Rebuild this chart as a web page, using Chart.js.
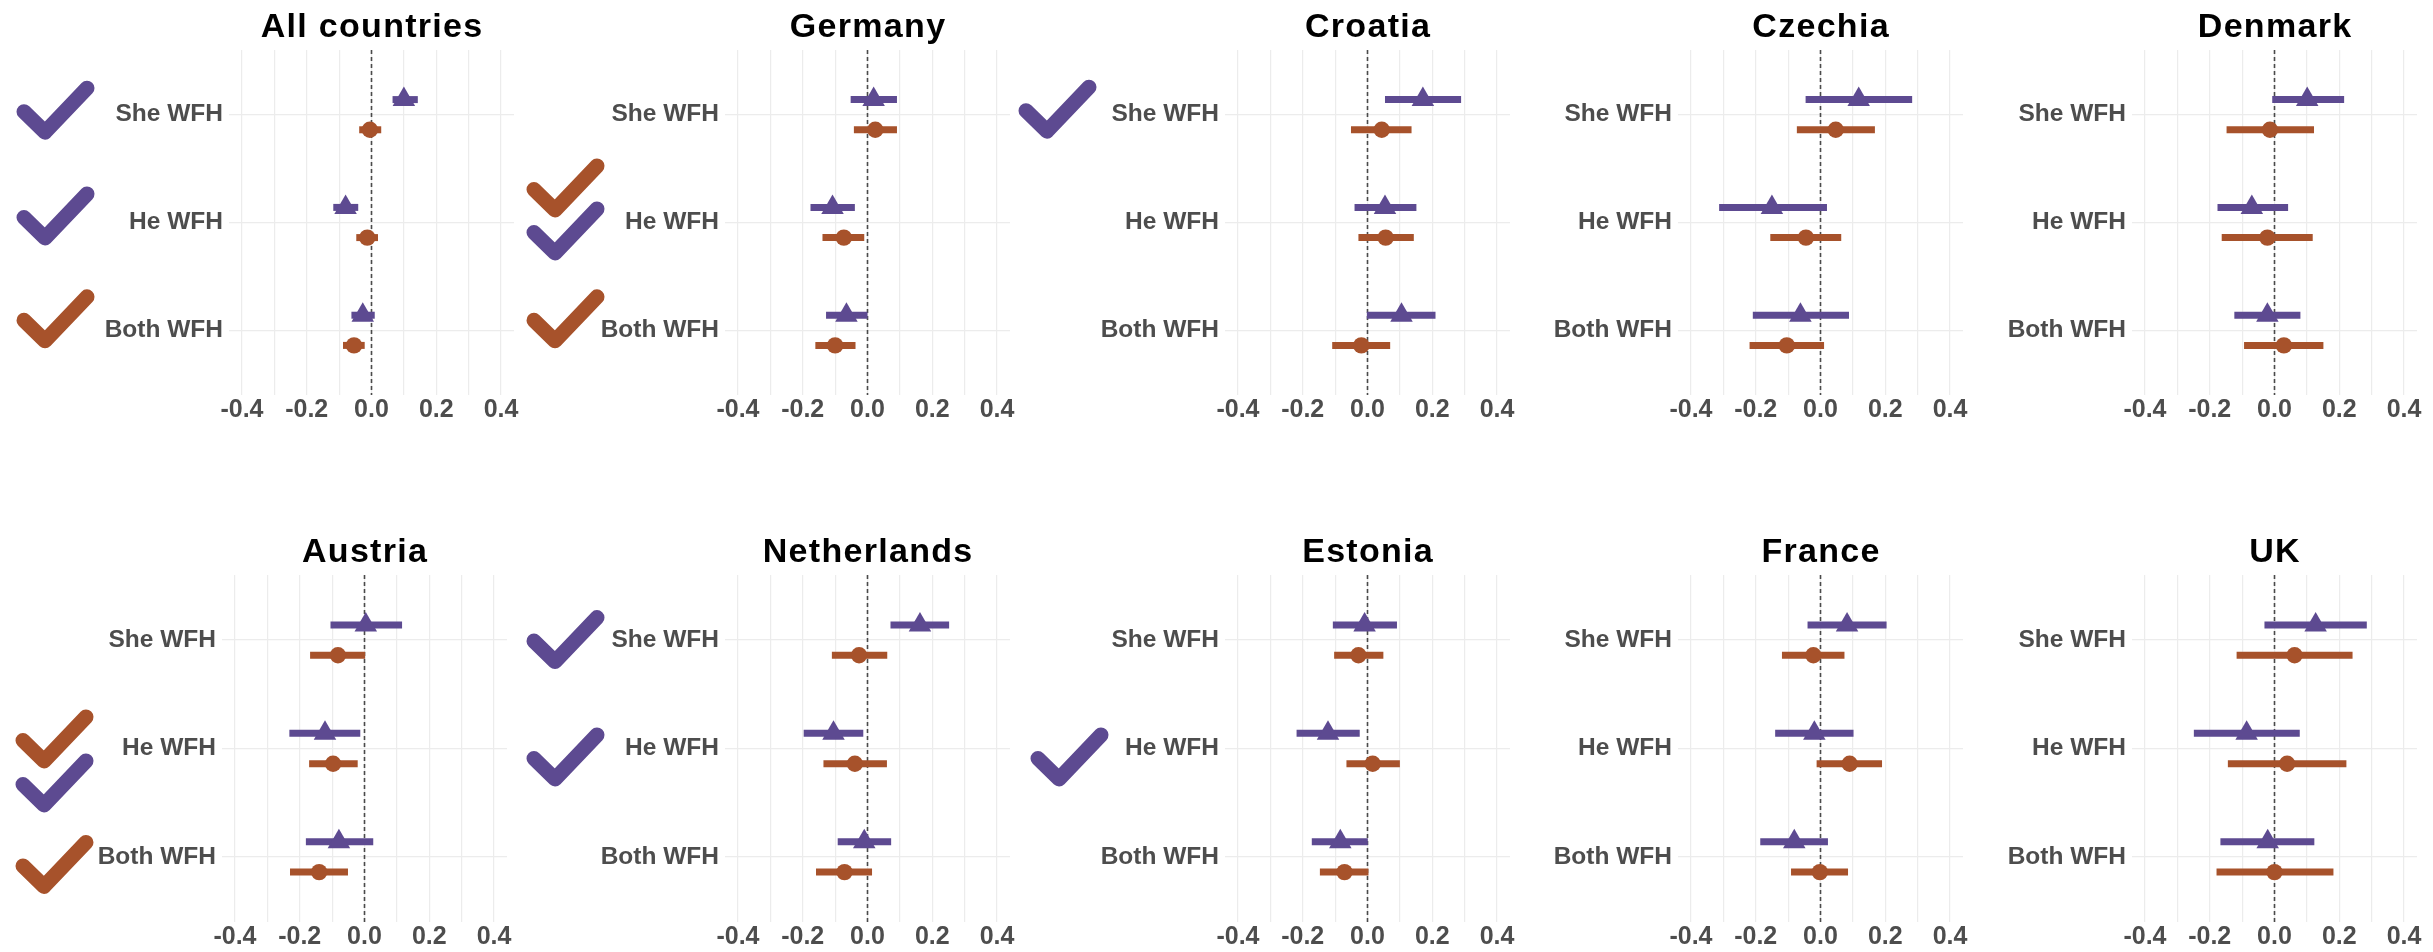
<!DOCTYPE html>
<html>
<head>
<meta charset="utf-8">
<script src="https://cdn.jsdelivr.net/npm/chart.js@4/dist/chart.umd.min.js"></script>
<style>
  html, body { margin: 0; padding: 0; background: #ffffff; }
  #board { position: relative; width: 2433px; height: 952px; overflow: hidden; background: #ffffff; }
  #board canvas { position: absolute; }
</style>
</head>
<body>
<div id="board"></div>
<script>
// ---- data ----
const countries = ['All countries', 'Germany', 'Croatia', 'Czechia', 'Denmark',
                   'Austria', 'Netherlands', 'Estonia', 'France', 'UK'];
const categories = ['She WFH', 'He WFH', 'Both WFH'];
const tickValues = [-0.4, -0.2, 0, 0.2, 0.4];
const tickLabels = ['-0.4', '-0.2', '0.0', '0.2', '0.4'];

// series A (triangles): estimate and interval, one row per country, one entry per category
const estA = [
  [0.100, -0.080, -0.027],
  [0.019, -0.108, -0.065],
  [0.171, 0.054, 0.105],
  [0.118, -0.150, -0.062],
  [0.101, -0.070, -0.022],
  [0.004, -0.122, -0.079],
  [0.162, -0.105, -0.010],
  [-0.009, -0.122, -0.084],
  [0.082, -0.019, -0.081],
  [0.127, -0.086, -0.021]
];
const lowA = [
  [0.065, -0.118, -0.062],
  [-0.052, -0.176, -0.128],
  [0.054, -0.040, -0.002],
  [-0.046, -0.313, -0.209],
  [-0.007, -0.176, -0.124],
  [-0.105, -0.232, -0.181],
  [0.071, -0.197, -0.092],
  [-0.107, -0.219, -0.172],
  [-0.040, -0.140, -0.186],
  [-0.031, -0.249, -0.167]
];
const highA = [
  [0.143, -0.041, 0.010],
  [0.091, -0.039, 0.000],
  [0.289, 0.151, 0.210],
  [0.283, 0.020, 0.088],
  [0.215, 0.042, 0.080],
  [0.116, -0.013, 0.027],
  [0.252, -0.013, 0.073],
  [0.091, -0.024, 0.001],
  [0.204, 0.102, 0.023],
  [0.285, 0.078, 0.123]
];

// series B (circles)
const estB = [
  [-0.005, -0.013, -0.054],
  [0.024, -0.073, -0.100],
  [0.044, 0.056, -0.019],
  [0.047, -0.045, -0.104],
  [-0.014, -0.022, 0.029],
  [-0.082, -0.097, -0.140],
  [-0.026, -0.039, -0.071],
  [-0.028, 0.016, -0.071],
  [-0.022, 0.090, -0.002],
  [0.062, 0.039, 0.000]
];
const lowB = [
  [-0.038, -0.047, -0.088],
  [-0.042, -0.139, -0.161],
  [-0.051, -0.028, -0.109],
  [-0.073, -0.155, -0.219],
  [-0.148, -0.163, -0.094],
  [-0.168, -0.171, -0.230],
  [-0.110, -0.136, -0.159],
  [-0.103, -0.065, -0.147],
  [-0.119, -0.012, -0.091],
  [-0.117, -0.144, -0.179]
];
const highB = [
  [0.030, 0.020, -0.021],
  [0.091, -0.010, -0.037],
  [0.136, 0.143, 0.070],
  [0.168, 0.064, 0.011],
  [0.122, 0.118, 0.151],
  [0.002, -0.021, -0.051],
  [0.061, 0.060, 0.014],
  [0.049, 0.100, 0.003],
  [0.074, 0.190, 0.085],
  [0.241, 0.222, 0.182]
];

// tick marks beside category labels: panel, category, series
const checkPanels = [0, 0, 0, 1, 1, 1, 2, 5, 5, 5, 6, 6, 7];
const checkCats   = [0, 1, 2, 1, 1, 2, 0, 1, 1, 2, 0, 1, 1];
const checkSeries = ['A', 'A', 'B', 'B', 'A', 'B', 'A', 'B', 'A', 'B', 'A', 'A', 'A'];

// ---- styling & layout ----
const COLORS = { A: '#5d4a91', B: '#a7522b' };
const FONT = '"Liberation Sans", Arial, Helvetica, sans-serif';
const LABEL_GREY = '#4d4d4d';
const PANEL_ZERO_X = [373, 869, 1369, 1822, 2276, 366, 869, 1369, 1822, 2276];
const ROWS = [{ top: 50, bottom: 395 }, { top: 575, bottom: 922 }];
const CHECK_GAP = [211, 197, 205, 0, 0, 205, 197, 193, 0, 0];
const CHECK_DY = [-4, -6, -11, -34, 9, -11, -5, -9, 35, 8, 0, 9, 9];
const X_MIN = -0.44, X_MAX = 0.44;
const AREA_W = 288;
const PAD_L = 80, PAD_R = 10, Y_W = 140, TITLE_H = 50, X_H = 30;
const DODGE = 0.14;

// title over each panel plus the check marks left of the labels
const panelDecor = {
  id: 'panelDecor',
  afterDraw(chart, args, opts) {
    const { ctx, chartArea } = chart;
    ctx.save();
    ctx.font = 'bold 34px ' + FONT;
    ctx.fillStyle = '#000000';
    ctx.textAlign = 'center';
    ctx.textBaseline = 'alphabetic';
    if ('letterSpacing' in ctx) ctx.letterSpacing = '1.3px';
    ctx.fillText(opts.title, (chartArea.left + chartArea.right) / 2 + 0.6, chartArea.top - 13);
    ctx.restore();

    const yScale = chart.scales.y;
    opts.marks.forEach(m => {
      const cy = yScale.getPixelForValue(m.cat + 1) + m.dy;
      const xl = chartArea.left - opts.gap;
      ctx.save();
      ctx.strokeStyle = COLORS[m.series];
      ctx.lineWidth = 15;
      ctx.lineCap = 'round';
      ctx.lineJoin = 'round';
      ctx.beginPath();
      ctx.moveTo(xl + 6, cy + 1);
      ctx.lineTo(xl + 27, cy + 21.5);
      ctx.lineTo(xl + 69, cy - 22.5);
      ctx.stroke();
      ctx.restore();
    });
  }
};

const board = document.getElementById('board');
const gridValues = [];
for (let k = 0; k < tickValues.length; k++) {
  gridValues.push(tickValues[k]);
  if (k < tickValues.length - 1) gridValues.push((tickValues[k] + tickValues[k + 1]) / 2);
}

countries.forEach((name, i) => {
  const row = ROWS[i < 5 ? 0 : 1];
  const cx = PANEL_ZERO_X[i];
  const W = PAD_L + Y_W + AREA_W + PAD_R;
  const H = row.bottom - row.top + TITLE_H + X_H;
  const canvas = document.createElement('canvas');
  canvas.width = W;
  canvas.height = H;
  canvas.style.left = (cx - AREA_W / 2 - Y_W - PAD_L) + 'px';
  canvas.style.top = (row.top - TITLE_H) + 'px';
  canvas.style.width = W + 'px';
  canvas.style.height = H + 'px';
  board.appendChild(canvas);

  const datasets = [];
  datasets.push({
    showLine: true,
    data: [{ x: 0, y: 0.4 }, { x: 0, y: 3.6 }],
    borderColor: '#4a4a4a', borderWidth: 1.6, borderDash: [4, 3],
    pointRadius: 0, order: 3
  });
  categories.forEach((c, j) => {
    datasets.push({
      showLine: true,
      data: [{ x: lowA[i][j], y: j + 1 - DODGE }, { x: highA[i][j], y: j + 1 - DODGE }],
      borderColor: COLORS.A, borderWidth: 7, borderCapStyle: 'butt',
      pointRadius: 0, order: 2
    });
    datasets.push({
      showLine: true,
      data: [{ x: lowB[i][j], y: j + 1 + DODGE }, { x: highB[i][j], y: j + 1 + DODGE }],
      borderColor: COLORS.B, borderWidth: 7, borderCapStyle: 'butt',
      pointRadius: 0, order: 2
    });
  });
  datasets.push({
    data: categories.map((c, j) => ({ x: estA[i][j], y: j + 1 - DODGE })),
    pointStyle: 'triangle', pointRadius: 13, backgroundColor: COLORS.A,
    pointBackgroundColor: COLORS.A, pointBorderWidth: 0, borderWidth: 0, order: 1
  });
  datasets.push({
    data: categories.map((c, j) => ({ x: estB[i][j], y: j + 1 + DODGE })),
    pointStyle: 'circle', pointRadius: 8.2, backgroundColor: COLORS.B,
    pointBackgroundColor: COLORS.B, pointBorderWidth: 0, borderWidth: 0, order: 1
  });

  const marks = [];
  checkPanels.forEach((p, k) => {
    if (p === i) marks.push({ cat: checkCats[k], series: checkSeries[k], dy: CHECK_DY[k] });
  });

  new Chart(canvas, {
    type: 'scatter',
    data: { datasets },
    plugins: [panelDecor],
    options: {
      responsive: false,
      animation: false,
      devicePixelRatio: 1,
      layout: { padding: { top: TITLE_H, left: PAD_L, right: PAD_R, bottom: 0 } },
      plugins: {
        legend: { display: false },
        tooltip: { enabled: false },
        title: { display: false },
        panelDecor: { title: name, marks, gap: CHECK_GAP[i] }
      },
      scales: {
        x: {
          type: 'linear', min: X_MIN, max: X_MAX,
          afterBuildTicks: s => { s.ticks = gridValues.map(v => ({ value: v })); },
          afterFit: s => { s.height = X_H; },
          border: { display: false },
          grid: { color: '#ececec', lineWidth: 1.2, drawTicks: false },
          ticks: {
            autoSkip: false, maxRotation: 0, padding: 0,
            color: LABEL_GREY,
            font: { family: FONT, size: 25, weight: 'bold' },
            callback: v => {
              const k = tickValues.findIndex(t => Math.abs(t - v) < 1e-6);
              return k >= 0 ? tickLabels[k] : '';
            }
          }
        },
        y: {
          type: 'linear', min: 0.4, max: 3.6, reverse: true,
          afterBuildTicks: s => { s.ticks = categories.map((c, j) => ({ value: j + 1 })); },
          afterFit: s => { s.width = Y_W; },
          border: { display: false },
          grid: { color: '#ececec', lineWidth: 1.2, drawTicks: false },
          ticks: {
            autoSkip: false, padding: 6,
            color: LABEL_GREY,
            font: { family: FONT, size: 24.5, weight: 'bold' },
            callback: v => categories[Math.round(v) - 1] || ''
          }
        }
      }
    }
  });
});
</script>
</body>
</html>
